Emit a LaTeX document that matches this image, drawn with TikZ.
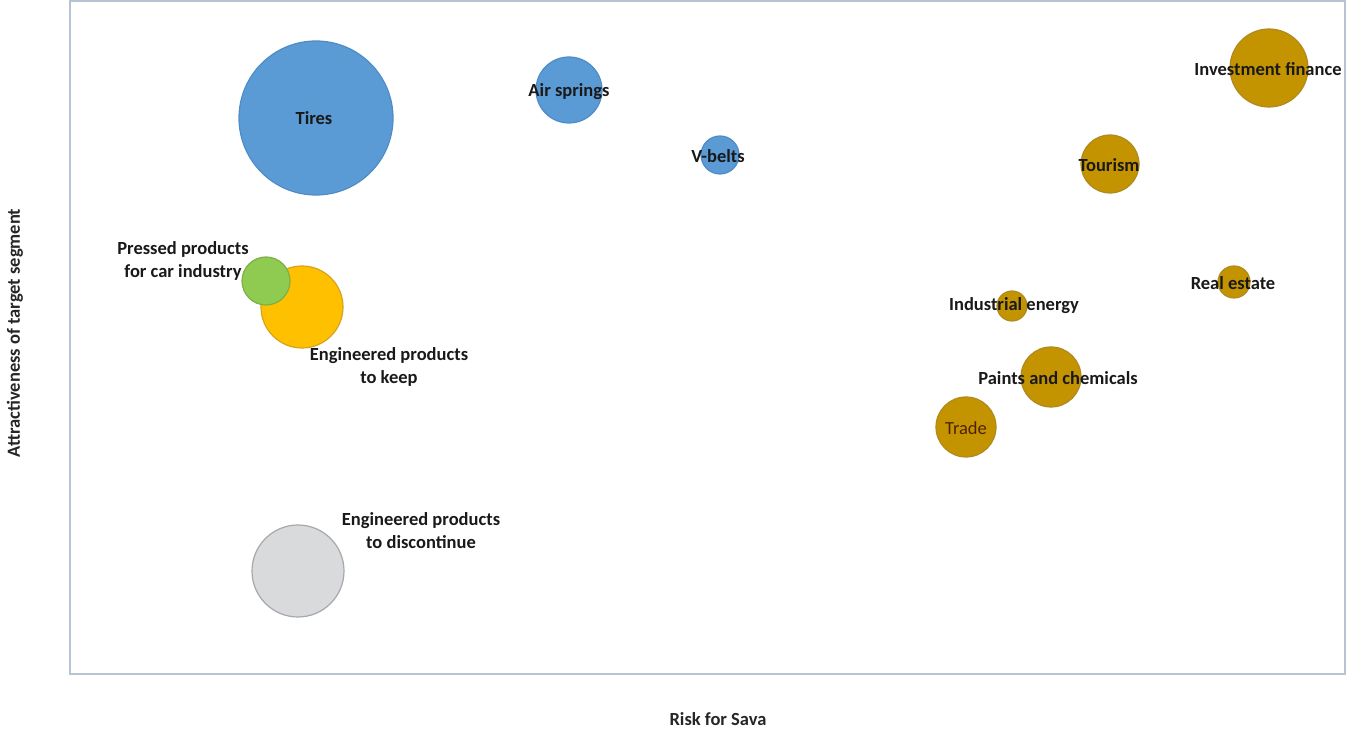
\documentclass[tikz,border=0pt]{standalone}
\usepackage{fontspec}
\setmainfont{Carlito}
\begin{document}
\begin{tikzpicture}[x=1pt,y=1pt,
  bub/.style={circle,inner sep=0pt,line width=1.2pt},
  blueb/.style={bub,fill=bblue,draw=bblueE},
  goldb/.style={bub,fill=bgold,draw=bgoldE},
  lbl/.style={font=\fontsize{18.5}{23}\selectfont\bfseries,text=black!90,align=center,inner sep=0pt},
  axl/.style={font=\fontsize{18.5}{22}\selectfont\bfseries,text=black!85,inner sep=0pt}]
\definecolor{bblue}{HTML}{5B9BD5}
\definecolor{bblueE}{HTML}{4F8CC6}
\definecolor{bgold}{HTML}{C39400}
\definecolor{bgoldE}{HTML}{B08A20}
\definecolor{bgreen}{HTML}{8FCB50}
\definecolor{bgreenE}{HTML}{7DB046}
\definecolor{byel}{HTML}{FFC000}
\definecolor{byelE}{HTML}{D9A21E}
\definecolor{bgray}{HTML}{D9DADC}
\definecolor{bgrayE}{HTML}{A6A8AC}
\definecolor{frameC}{HTML}{B7C2D2}
\useasboundingbox (0,0) rectangle (1347,733);
\fill[white] (0,0) rectangle (1347,733);
\draw[frameC,line width=2pt] (70,732) rectangle (1345,59);
% bubbles
\node[blueb,minimum size=154pt] (tires) at (316,615) {};
\node[blueb,minimum size=66pt] (air) at (569,643) {};
\node[blueb,minimum size=38pt] (vbelt) at (720,578) {};
\node[bub,fill=byel,draw=byelE,minimum size=82pt] (keep) at (302,426) {};
\node[bub,fill=bgreen,draw=bgreenE,minimum size=48pt] (press) at (266,452) {};
\node[bub,fill=bgray,draw=bgrayE,minimum size=92pt] (disc) at (298,162) {};
\node[goldb,minimum size=78pt] (inv) at (1269,665) {};
\node[goldb,minimum size=58pt] (tour) at (1110,569) {};
\node[goldb,minimum size=32pt] (real) at (1234,451) {};
\node[goldb,minimum size=30pt] (ind) at (1012,427) {};
\node[goldb,minimum size=60pt] (paint) at (1051,356) {};
\node[goldb,minimum size=60pt] (trade) at (966,306) {};
% labels
\node[lbl] (tiresL) at (314,615) {Tires};
\node[lbl] (airL) at (569,641) {Air springs};
\node[lbl] (vbeltL) at (718,577) {V-belts};
\node[lbl] (pressL) at (183,472) {Pressed products\\for car industry};
\node[lbl] (keepL) at (389,366) {Engineered products\\to keep};
\node[lbl] (discL) at (421,202) {Engineered products\\to discontinue};
\node[lbl] (invL) at (1268,664) {Investment finance};
\node[lbl] (tourL) at (1109,568) {Tourism};
\node[lbl] (realL) at (1233,450) {Real estate};
\node[lbl] (indL) at (1014,427) {Industrial energy};
\node[lbl] (paintL) at (1058,355) {Paints and chemicals};
\node[lbl,font=\fontsize{18.5}{23}\selectfont,text={rgb,255:red,80;green,35;blue,0}] (tradeL) at (966,305) {Trade};
% axes
\node[axl] (xax) at (718,14) {Risk for Sava};
\node[axl,rotate=90] (yax) at (15,400) {Attractiveness of target segment};
\end{tikzpicture}
\end{document}
